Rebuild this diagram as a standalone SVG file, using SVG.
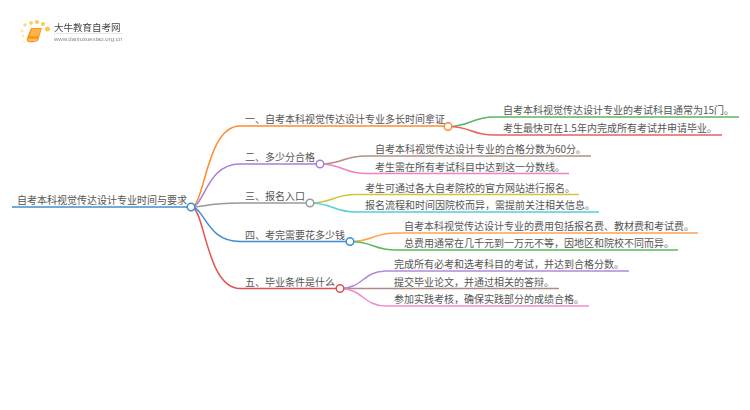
<svg xmlns="http://www.w3.org/2000/svg" width="750" height="410" viewBox="0 0 750 410">
<defs><filter id="soft" x="-5%" y="-5%" width="110%" height="110%"><feGaussianBlur stdDeviation="0.4"/></filter></defs>
<style>
text{font-family:"Noto Sans CJK SC","Liberation Sans",sans-serif;font-size:10px;fill:#555}
.c{fill:none;stroke-width:1.5}
.n{fill:#fff;stroke-width:1.5}
</style>
<rect width="750" height="410" fill="#fff"/>
<g id="logo" filter="url(#soft)">
<circle cx="24" cy="42" r="1" fill="#fdeac0"/><circle cx="23" cy="36" r="1.300" fill="#fde3a8"/><circle cx="22" cy="31" r="1.500" fill="#fde3a8"/><circle cx="25" cy="25" r="1.800" fill="#fbd88a"/><circle cx="31" cy="23" r="2" fill="#fbd070"/><circle cx="37" cy="22" r="2" fill="#fbc850"/><circle cx="43" cy="24" r="2" fill="#fbc850"/><circle cx="47.500" cy="29" r="2.500" fill="#fbc850"/>
<path d="M31 28H42L38 41Q33 43 28 42Q26 41 27 38Z" fill="#f59a1c"/><path d="M32 29H41L38.500 36H30Z" fill="#fbb54a"/><path d="M28 40H37" stroke="#fde3a8" stroke-width="1"/>
<text x="54" y="31" style="font-size:9.500px;fill:#444">大牛教育自考网</text>
<path d="M54 33.500H122" stroke="#ddd" stroke-width="0.700"/>
<text x="54" y="41" style="font-family:'Liberation Sans',sans-serif;font-size:6px;fill:#888">www.daniuxuexiao.org.cn</text>
</g>
<g id="connectors">
<path class="c" stroke="#3f8ecb" d="M12 207H191"/>
<path class="c" stroke="#ff8c2e" d="M191 207C205 207 206 126 240 126H448"/>
<path class="c" stroke="#a97fd6" d="M191 207C205 207 206 164 240 164H320"/>
<path class="c" stroke="#999" d="M191 207C205 207 206 203 240 203H310"/>
<path class="c" stroke="#3f8ecb" d="M191 207C205 207 206 241.500 240 241.500H350"/>
<path class="c" stroke="#e05252" d="M191 207C205 207 206 288.500 240 288.500H340"/>
<path class="c" stroke="#5cb85c" d="M448 126.500C471 126.500 471 117 494 117H739"/>
<path class="c" stroke="#e86060" d="M448 126.500C471 126.500 471 135 494 135H722"/>
<path class="c" stroke="#b58f85" d="M320 164C343 164 343 156 366 156H591"/>
<path class="c" stroke="#ee82c8" d="M320 164C343 164 343 173.500 366 173.500H569"/>
<path class="c" stroke="#cfc53f" d="M310 203C333 203 333 194.500 356 194.500H579"/>
<path class="c" stroke="#4fd0dc" d="M310 203C333 203 333 212 356 212H599"/>
<path class="c" stroke="#ffa24f" d="M350 241.500C373 241.500 373 233 396 233H698"/>
<path class="c" stroke="#5cb85c" d="M350 241.500C373 241.500 373 250 396 250H678"/>
<path class="c" stroke="#b388dd" d="M340 288.500C363 288.500 363 271 386 271H629"/>
<path class="c" stroke="#b08a84" d="M340 288.500H559"/>
<path class="c" stroke="#ef8ad0" d="M340 288.500C363 288.500 363 306 386 306H589"/>
</g>
<g id="root"><text x="17" y="204">自考本科视觉传达设计专业时间与要求</text><circle class="n" stroke="#3f8ecb" cx="191" cy="207" r="3.800"/></g>
<g id="branch1"><text x="245" y="123">一、自考本科视觉传达设计专业多长时间拿证</text><circle class="n" stroke="#ff8c2e" cx="448" cy="126.500" r="3.800"/></g>
<g id="branch2"><text x="245" y="161">二、多少分合格</text><circle class="n" stroke="#a97fd6" cx="320" cy="164" r="3.800"/></g>
<g id="branch3"><text x="245" y="200">三、报名入口</text><circle class="n" stroke="#999" cx="310" cy="203" r="3.800"/></g>
<g id="branch4"><text x="245" y="238.500">四、考完需要花多少钱</text><circle class="n" stroke="#3f8ecb" cx="350" cy="241.500" r="3.800"/></g>
<g id="branch5"><text x="245" y="285.500">五、毕业条件是什么</text><circle class="n" stroke="#e05252" cx="340" cy="288.500" r="3.800"/></g>
<g id="leaf1a"><text x="503" y="114">自考本科视觉传达设计专业的考试科目通常为15门。</text></g>
<g id="leaf1b"><text x="503" y="132">考生最快可在1.5年内完成所有考试并申请毕业。</text></g>
<g id="leaf2a"><text x="375" y="153">自考本科视觉传达设计专业的合格分数为60分。</text></g>
<g id="leaf2b"><text x="375" y="170.500">考生需在所有考试科目中达到这一分数线。</text></g>
<g id="leaf3a"><text x="365" y="191.500">考生可通过各大自考院校的官方网站进行报名。</text></g>
<g id="leaf3b"><text x="365" y="209">报名流程和时间因院校而异，需提前关注相关信息。</text></g>
<g id="leaf4a"><text x="404" y="230">自考本科视觉传达设计专业的费用包括报名费、教材费和考试费。</text></g>
<g id="leaf4b"><text x="404" y="247">总费用通常在几千元到一万元不等，因地区和院校不同而异。</text></g>
<g id="leaf5a"><text x="394" y="268">完成所有必考和选考科目的考试，并达到合格分数。</text></g>
<g id="leaf5b"><text x="394" y="285.500">提交毕业论文，并通过相关的答辩。</text></g>
<g id="leaf5c"><text x="394" y="303">参加实践考核，确保实践部分的成绩合格。</text></g>
</svg>
